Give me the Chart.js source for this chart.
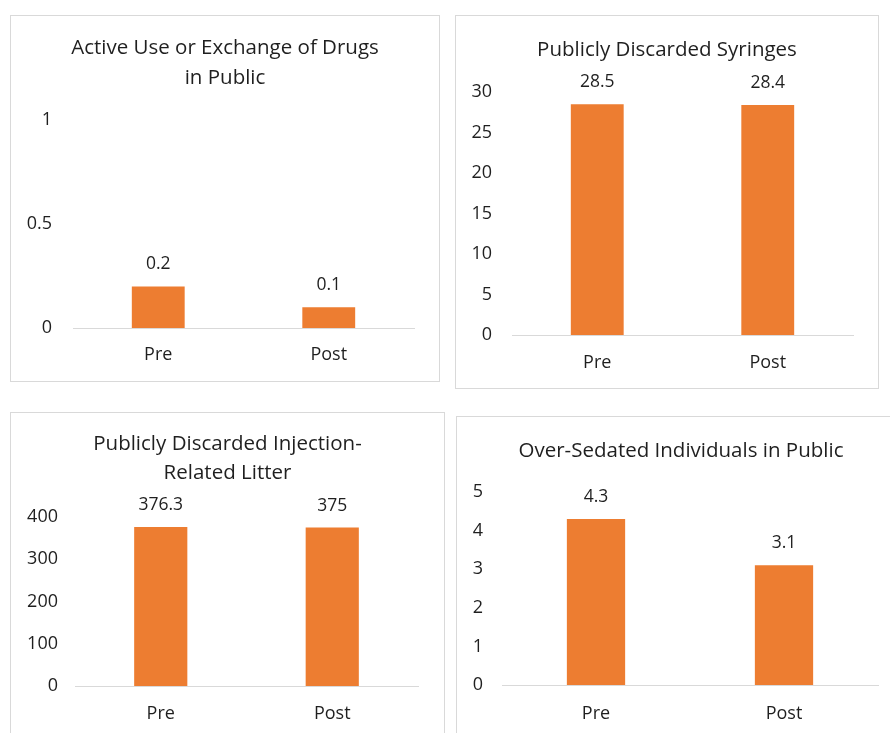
<!DOCTYPE html>
<html>
<head>
<meta charset="utf-8">
<script src="https://cdn.jsdelivr.net/npm/chart.js@4/dist/chart.umd.min.js"></script>
<style>
  html, body { margin: 0; padding: 0; background: #fff; overflow: hidden; }
  body { width: 890px; height: 733px; position: relative; }
  .panel { position: absolute; border: 1px solid #d9d9d9; box-sizing: border-box; background: #fff; }
  .panel canvas { position: absolute; left: 0; top: 0; }
</style>
</head>
<body>
<div class="panel" id="p1" style="left:10px;top:15px;width:430px;height:367px;"><canvas id="c1"></canvas></div>
<div class="panel" id="p2" style="left:455px;top:15px;width:424px;height:374px;"><canvas id="c2"></canvas></div>
<div class="panel" id="p3" style="left:10px;top:412px;width:435px;height:340px;"><canvas id="c3"></canvas></div>
<div class="panel" id="p4" style="left:456px;top:416px;width:450px;height:340px;"><canvas id="c4"></canvas></div>
<script>
// Periods compared in every panel
const periods = ['Pre', 'Post'];

// Observed averages per indicator
const drugUseValues = [0.2, 0.1];
const syringeValues = [28.5, 28.4];
const litterValues = [376.3, 375];
const sedatedValues = [4.3, 3.1];

// Panel titles
const drugUseTitle = ['Active Use or Exchange of Drugs', 'in Public'];
const syringeTitle = ['Publicly Discarded Syringes'];
const litterTitle = ['Publicly Discarded Injection-', 'Related Litter'];
const sedatedTitle = ['Over-Sedated Individuals in Public'];

// Y axis ranges [max, step]
const drugUseAxis = [1, 0.5];
const syringeAxis = [30, 5];
const litterAxis = [400, 100];
const sedatedAxis = [5, 1];

const FONT = '"Open Sans", Lato, sans-serif';
const TEXT = '#1f1f1f';
const ORANGE = '#ED7D31';

// Writes each bar's value just above it
const valueLabels = {
  id: 'valueLabels',
  afterDatasetsDraw(chart) {
    const ctx = chart.ctx;
    const meta = chart.getDatasetMeta(0);
    const data = chart.data.datasets[0].data;
    ctx.save();
    ctx.fillStyle = TEXT;
    ctx.font = '17.5px ' + FONT;
    ctx.textAlign = 'center';
    ctx.textBaseline = 'middle';
    meta.data.forEach((bar, i) => {
      ctx.fillText(String(data[i]), bar.x, bar.y - 22);
    });
    ctx.restore();
  }
};

// An empty right-hand axis reserves the right margin, so the full-width
// title stays centred on the panel.
function makeChart(id, w, h, cfg) {
  const canvas = document.getElementById(id);
  canvas.width = w; canvas.height = h;
  canvas.style.width = w + 'px'; canvas.style.height = h + 'px';
  return new Chart(canvas, {
    type: 'bar',
    data: {
      labels: periods,
      datasets: [{
        data: cfg.values,
        backgroundColor: ORANGE,
        borderWidth: 0,
        categoryPercentage: 1,
        barPercentage: cfg.barPct,
        yAxisID: 'y'
      }]
    },
    options: {
      responsive: false,
      animation: false,
      devicePixelRatio: 1,
      layout: { padding: 0 },
      plugins: {
        legend: { display: false },
        tooltip: { enabled: false },
        title: {
          display: true,
          text: cfg.title,
          color: TEXT,
          font: { family: FONT, size: 20.5, weight: 'normal', lineHeight: cfg.lineH + 'px' },
          padding: { top: cfg.titleTop, bottom: cfg.titleBottom }
        }
      },
      scales: {
        x: {
          grid: { display: false, drawTicks: false },
          border: { display: true, color: '#d9d9d9', width: 1 },
          ticks: { color: TEXT, font: { family: FONT, size: 18 }, padding: cfg.xPad },
          afterFit(s) { s.height = cfg.xH; }
        },
        y: {
          position: 'left',
          min: 0,
          max: cfg.axis[0],
          grid: { display: false, drawTicks: false },
          border: { display: false },
          ticks: {
            stepSize: cfg.axis[1], color: TEXT, font: { family: FONT, size: 18 }, padding: cfg.yPad,
            callback: (v) => String(v)
          },
          afterFit(s) { s.width = cfg.yW; }
        },
        margin: {
          position: 'right',
          display: true,
          grid: { display: false, drawTicks: false },
          border: { display: false },
          ticks: { display: false },
          afterFit(s) { s.width = cfg.side; }
        }
      }
    },
    plugins: [valueLabels]
  });
}

makeChart('c1', 428, 365, {
  values: drugUseValues, title: drugUseTitle, axis: drugUseAxis,
  lineH: 30, titleTop: 17, titleBottom: 27, side: 25, xH: 53, xPad: 16, yW: 62, yPad: 21, barPct: 0.31
});
makeChart('c2', 422, 372, {
  values: syringeValues, title: syringeTitle, axis: syringeAxis,
  lineH: 30, titleTop: 19, titleBottom: 27, side: 25, xH: 53, xPad: 17, yW: 56, yPad: 20, barPct: 0.31
});
makeChart('c3', 433, 338, {
  values: litterValues, title: litterTitle, axis: litterAxis,
  lineH: 29, titleTop: 17, titleBottom: 29, side: 26, xH: 65, xPad: 17, yW: 64, yPad: 17, barPct: 0.31
});
makeChart('c4', 448, 338, {
  values: sedatedValues, title: sedatedTitle, axis: sedatedAxis,
  lineH: 30, titleTop: 19, titleBottom: 26, side: 27, xH: 70, xPad: 18, yW: 45, yPad: 19, barPct: 0.31
});
</script>
</body>
</html>
